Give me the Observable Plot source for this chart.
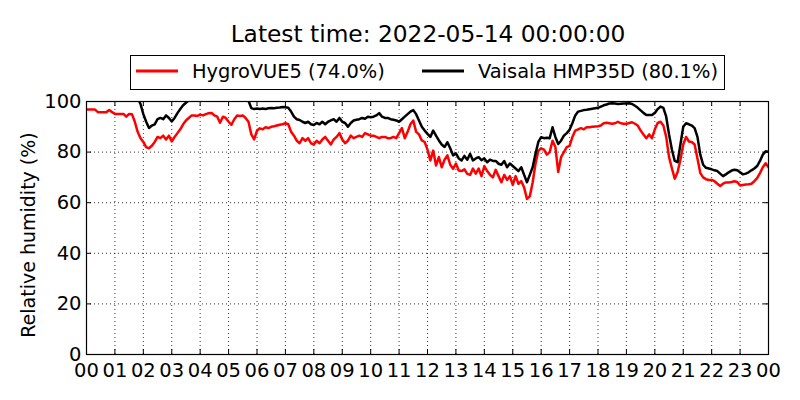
<!DOCTYPE html>
<html>
<head>
<meta charset="utf-8">
<script src="https://cdn.jsdelivr.net/npm/d3@7"></script>
<script src="https://cdn.jsdelivr.net/npm/@observablehq/plot@0.6"></script>
<style>
  html, body { margin: 0; padding: 0; background: white; }
  #wrap { position: relative; width: 800px; height: 400px; font-family: "DejaVu Sans", sans-serif; }
  #wrap svg { position: absolute; left: 0; top: 0; }
</style>
</head>
<body>
<div id="wrap"></div>
<script>
const titleText = "Latest time: 2022-05-14 00:00:00";
const seriesNames = ["HygroVUE5", "Vaisala HMP35D"];
const seriesColors = ["#ff0000", "#000000"];
const latestValues = ["74.0", "80.1"];
const yLabel = "Relative humidity (%)";
const hourTicks = [0,1,2,3,4,5,6,7,8,9,10,11,12,13,14,15,16,17,18,19,20,21,22,23,24];
const hourLabels = ["00","01","02","03","04","05","06","07","08","09","10","11","12","13","14","15","16","17","18","19","20","21","22","23","00"];
const yTicks = [0, 20, 40, 60, 80, 100];

// sample times: one reading every 6 minutes (0.1 h), 00:00 to 24:00
const hours = d3.range(0, 241).map(i => i / 10);

const hygroVUE5 = [
  96.8, 96.8, 96.8, 96.8, 95.8, 95.8, 95.8, 95.8, 96.6, 95.8,
  95.1, 95.1, 95.1, 95.1, 94.0, 95.1, 95.0, 92.0, 88.0, 85.5,
  84.0, 82.0, 81.5, 82.5, 84.0, 86.0, 85.5, 86.5, 85.0, 86.5,
  84.2, 86.0, 87.5, 89.0, 91.0, 92.5, 93.5, 94.5, 94.5, 94.3,
  94.8, 94.5, 95.0, 95.4, 95.5, 94.5, 94.0, 91.6, 94.0, 93.5,
  92.0, 90.8, 93.0, 94.5, 94.3, 94.5, 93.5, 92.0, 87.0, 85.0,
  88.5, 89.4, 89.0, 89.8, 89.5, 90.0, 90.2, 90.5, 90.8, 91.0,
  91.4, 91.0, 88.0, 86.5, 84.5, 83.5, 85.5, 84.5, 85.5, 83.5,
  83.0, 84.5, 83.5, 85.0, 86.0, 84.5, 83.0, 85.0, 86.0, 87.5,
  85.0, 83.5, 84.5, 86.5, 85.5, 86.0, 86.5, 86.0, 87.5, 87.0,
  86.5, 86.5, 86.0, 85.5, 86.0, 86.0, 85.5, 85.5, 86.0, 85.5,
  87.5, 89.5, 85.5, 88.0, 91.0, 92.5, 88.0, 87.0, 84.6, 84.0,
  81.0, 76.7, 80.6, 74.7, 78.0, 74.0, 77.0, 78.7, 75.0, 73.4,
  75.5, 72.7, 72.5, 73.2, 71.4, 71.0, 73.5, 71.5, 73.5, 70.5,
  74.5, 72.5, 71.0, 70.0, 73.0, 70.5, 68.1, 71.0, 69.0, 70.5,
  67.0, 70.5, 67.5, 68.5, 66.0, 61.5, 62.5, 68.0, 75.4, 80.5,
  81.5, 81.0, 79.0, 80.0, 84.5, 82.0, 72.1, 78.0, 80.0, 82.0,
  82.5, 86.0, 88.5, 89.0, 89.5, 89.0, 89.8, 89.8, 90.0, 90.1,
  90.2, 90.5, 91.4, 91.6, 91.4, 91.2, 91.4, 92.0, 91.4, 91.2,
  91.2, 91.5, 91.8, 91.2, 90.5, 88.5, 87.0, 85.5, 87.0, 85.5,
  89.0, 91.5, 92.0, 90.5, 86.0, 78.0, 73.6, 69.5, 72.0, 77.0,
  83.0, 86.0, 84.2, 84.0, 83.0, 77.5, 71.7, 70.0, 69.3, 69.0,
  69.0, 68.5, 67.5, 66.6, 67.5, 68.0, 68.0, 68.2, 68.5, 68.2,
  66.8, 67.0, 67.2, 67.3, 67.5, 68.5, 69.7, 71.7, 74.0, 75.6,
  74.0
];

const vaisalaHMP35D = [
  102, 102, 102, 102, 102, 102, 102, 102, 102, 102,
  102, 102, 102, 102, 102, 102, 102, 102, 101.5, 99.0,
  95.0, 92.0, 89.5, 90.5, 91.0, 93.0, 93.5, 93.0, 94.5, 93.5,
  92.1, 93.5, 95.4, 97.0, 98.5, 99.5, 100.5, 101.5, 102, 102,
  102, 102, 102, 102, 102, 102, 102, 102, 102, 102,
  102, 102, 102, 102, 102, 102, 101.5, 100.3, 97.4, 97.0,
  97.2, 97.0, 97.2, 97.0, 97.3, 97.4, 97.3, 97.5, 97.6, 97.8,
  97.7, 97.5, 96.0, 94.0, 93.0, 92.7, 92.0, 91.5, 92.0, 91.0,
  90.7, 91.5, 91.0, 92.0, 91.0, 92.0, 92.5, 93.0, 92.0, 93.5,
  92.0, 91.5, 90.0, 91.5, 92.5, 92.8, 93.0, 93.5, 93.2, 94.0,
  93.8, 94.0, 94.5, 95.4, 94.0, 93.5, 93.5, 93.0, 92.8, 92.5,
  92.0, 93.0, 94.0, 95.0, 96.0, 96.6, 95.0, 92.5, 90.0, 88.5,
  87.2, 86.0, 88.5, 86.5, 84.6, 83.0, 82.0, 83.9, 81.5, 78.7,
  79.5, 77.5, 76.7, 78.5, 77.0, 79.3, 76.7, 77.5, 78.0, 76.8,
  77.5, 76.0, 77.0, 76.5, 76.5, 75.4, 75.0, 76.5, 74.0, 75.5,
  74.5, 73.5, 72.5, 74.0, 71.0, 68.1, 71.0, 74.0, 79.3, 84.0,
  85.9, 85.5, 85.7, 85.5, 89.8, 86.0, 83.2, 84.5, 86.5, 87.5,
  88.8, 91.5, 94.5, 96.0, 96.3, 96.6, 96.7, 96.9, 97.1, 97.3,
  97.5, 98.0, 98.5, 98.8, 99.2, 99.3, 99.2, 99.0, 99.1, 99.2,
  99.2, 99.3, 99.0, 98.3, 97.5, 96.5, 95.5, 94.7, 94.7, 94.7,
  95.5, 97.0, 98.0, 97.5, 94.0, 87.0, 81.0, 76.5, 76.0, 83.0,
  90.0, 91.4, 91.0, 90.5, 89.5, 86.0, 79.0, 75.0, 73.8, 73.5,
  73.2, 72.8, 72.5, 71.5, 70.5, 71.2, 72.0, 72.7, 73.0, 72.8,
  72.0, 71.2, 71.5, 72.0, 72.8, 73.5, 74.5, 76.5, 79.0, 80.3,
  80.1
];

const redData = hours.map((h, i) => ({h, v: hygroVUE5[i]}));
const blackData = hours.map((h, i) => ({h, v: vaisalaHMP35D[i]}));

const W = 800, H = 400, mL = 86, mR = 32, mT = 101, mB = 46;
const innerH = H - mT - mB;

const chart = Plot.plot({
  width: W,
  height: H,
  marginLeft: mL,
  marginRight: mR,
  marginTop: mT,
  marginBottom: mB,
  style: { fontFamily: "DejaVu Sans", fontSize: "19.5px", background: "white", color: "black", overflow: "visible" },
  x: { domain: [0, 24], axis: null },
  y: { domain: [0, 100], axis: null },
  marks: [
    Plot.gridX(hourTicks, { stroke: "black", strokeOpacity: 1, strokeWidth: 0.8, strokeDasharray: "1,3" }),
    Plot.gridY(yTicks, { stroke: "black", strokeOpacity: 1, strokeWidth: 0.8, strokeDasharray: "1,3" }),
    Plot.line(redData, { x: "h", y: "v", stroke: seriesColors[0], strokeWidth: 2.5, strokeLinejoin: "round", clip: true }),
    Plot.line(blackData, { x: "h", y: "v", stroke: seriesColors[1], strokeWidth: 2.5, strokeLinejoin: "round", clip: true }),
    Plot.ruleX(hourTicks, { x: d => d, insetTop: innerH - 5, stroke: "black", strokeWidth: 1 }),
    Plot.ruleX(hourTicks, { x: d => d, insetBottom: innerH - 5, stroke: "black", strokeWidth: 1 }),
    Plot.ruleY(yTicks, { y: d => d, insetRight: (W - mL - mR) - 5, stroke: "black", strokeWidth: 1 }),
    Plot.ruleY(yTicks, { y: d => d, insetLeft: (W - mL - mR) - 5, stroke: "black", strokeWidth: 1 }),
    Plot.frame({ stroke: "black", strokeWidth: 1.2 }),
    Plot.axisX(hourTicks, { anchor: "bottom", tickSize: 0, tickPadding: 9, tickFormat: d => hourLabels[hourTicks.indexOf(d)], label: null, fontSize: 19.5 }),
    Plot.axisY(yTicks, { anchor: "left", tickSize: 0, tickPadding: 5, label: null, fontSize: 19.5 })
  ]
});

const wrap = document.getElementById("wrap");
wrap.appendChild(chart);

// overlay: title, legend, y label
const ov = d3.create("svg")
  .attr("width", W).attr("height", H)
  .style("font-family", "DejaVu Sans")
  .style("pointer-events", "none");

ov.append("text")
  .attr("x", 428).attr("y", 42)
  .attr("text-anchor", "middle")
  .attr("font-size", 23.3)
  .attr("fill", "black")
  .text(titleText);

ov.append("rect")
  .attr("x", 130.5).attr("y", 55.5)
  .attr("width", 594).attr("height", 34)
  .attr("fill", "white").attr("stroke", "black").attr("stroke-width", 1);

const legendX = [136, 422];
seriesNames.forEach((name, i) => {
  ov.append("line")
    .attr("x1", legendX[i]).attr("x2", legendX[i] + 42)
    .attr("y1", 71).attr("y2", 71)
    .attr("stroke", seriesColors[i]).attr("stroke-width", 2.8);
  ov.append("text")
    .attr("x", legendX[i] + 56).attr("y", 77.8)
    .attr("font-size", 19.4)
    .attr("fill", "black")
    .text(`${name} (${latestValues[i]}%)`);
});

ov.append("text")
  .attr("transform", "translate(35,235) rotate(-90)")
  .attr("text-anchor", "middle")
  .attr("font-size", 19)
  .attr("fill", "black")
  .text(yLabel);

wrap.appendChild(ov.node());
</script>
</body>
</html>
